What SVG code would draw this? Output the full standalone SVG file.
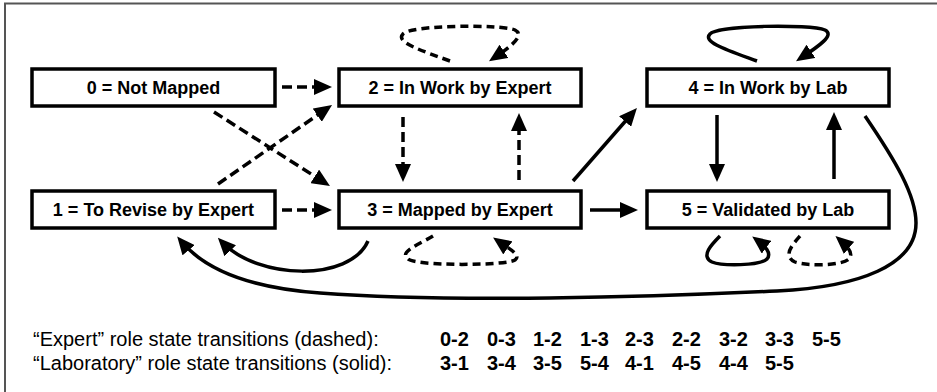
<svg xmlns="http://www.w3.org/2000/svg" width="937" height="392" viewBox="0 0 937 392">
<style>
.box{fill:#fff;stroke:#000;stroke-width:3.5}
.lbl{font-family:"Liberation Sans",Arial,sans-serif;font-weight:bold;font-size:18px;text-anchor:middle;fill:#000}
.c{fill:none;stroke:#000;stroke-width:3.5;marker-end:url(#ah)}
.d{stroke-dasharray:10 5}
.dl{stroke-dasharray:8 5}
.leg{font-family:"Liberation Sans",Arial,sans-serif;font-size:20px;fill:#000}
.num{font-family:"Liberation Sans",Arial,sans-serif;font-size:20px;font-weight:bold;fill:#000}
</style>
<defs>
<marker id="ah" viewBox="0 0 18 16" refX="12" refY="8" markerWidth="18" markerHeight="16" markerUnits="userSpaceOnUse" orient="auto">
<path d="M0,0 L18,8 L0,16 z" fill="#000"/>
</marker>
</defs>
<rect width="937" height="392" fill="#fff"/>
<rect x="5" y="3.5" width="1000" height="1000" fill="none" stroke="#555" stroke-width="2"/>
<g id="connectors">
<path class="c d" d="M282 87 L326 87"/>
<path class="c d" d="M282 210 L326 210"/>
<path class="c" d="M590 210 L632 210"/>
<path class="c d" d="M214 112 L324.9 182.8"/>
<path class="c d" d="M218 184 L327.1 108.4"/>
<path class="c d" d="M403 117 L403 176"/>
<path class="c d" d="M519 180 L519 119"/>
<path class="c" d="M717 115 L717 176"/>
<path class="c" d="M834 179 L834 118"/>
<path class="c" d="M573 181 L633 112.5"/>
<path class="c" d="M368 241 C350 282 258 280 222 242"/>
<path class="c" d="M865 116 C895 160 916 195 916 223 C916 265 860 287 777 291 C650 297 450 303 320 293 C250 288 205 270 181 241"/>
<path class="c dl" d="M450 61 C420 50 395 42 403 34 C410 25 500 24 515 30 C525 35 512 46 494 58"/>
<path class="c" d="M757 61 C727 50 702 42 710 34 C717 25 810 24 825 30 C835 35 819 46 801 58"/>
<path class="c dl" d="M433 236 C420 244 398 252 408 259 C415 266 505 266 515 260 C522 255 508 248 498 241"/>
<path class="c" d="M720 236 C712 244 700 256 712 262 C722 266 760 266 767 259 C772 253 765 246 757 240"/>
<path class="c dl" d="M800 236 C793 244 782 256 795 262 C805 266 842 266 849 259 C854 253 847 246 840 240"/>
</g>
<g id="n0"><rect class="box" x="32" y="69" width="243" height="37"/><text class="lbl" x="153.5" y="94">0 = Not Mapped</text></g>
<g id="n1"><rect class="box" x="32" y="191" width="243" height="37"/><text class="lbl" x="153.5" y="216">1 = To Revise by Expert</text></g>
<g id="n2"><rect class="box" x="339" y="69" width="242" height="37"/><text class="lbl" x="460" y="94">2 = In Work by Expert</text></g>
<g id="n3"><rect class="box" x="339" y="191" width="242" height="37"/><text class="lbl" x="460" y="216">3 = Mapped by Expert</text></g>
<g id="n4"><rect class="box" x="647" y="69" width="242" height="37"/><text class="lbl" x="768" y="94">4 = In Work by Lab</text></g>
<g id="n5"><rect class="box" x="647" y="191" width="242" height="37"/><text class="lbl" x="768" y="216">5 = Validated by Lab</text></g>
<g id="legend">
<text class="leg" x="33" y="346">“Expert” role state transitions (dashed):</text>
<text class="leg" x="33" y="370">“Laboratory” role state transitions (solid):</text>
<text class="num" y="346"><tspan x="440">0-2</tspan><tspan x="487">0-3</tspan><tspan x="533">1-2</tspan><tspan x="580">1-3</tspan><tspan x="625">2-3</tspan><tspan x="672">2-2</tspan><tspan x="719">3-2</tspan><tspan x="765">3-3</tspan><tspan x="812">5-5</tspan></text>
<text class="num" y="370"><tspan x="440">3-1</tspan><tspan x="487">3-4</tspan><tspan x="533">3-5</tspan><tspan x="580">5-4</tspan><tspan x="625">4-1</tspan><tspan x="672">4-5</tspan><tspan x="719">4-4</tspan><tspan x="765">5-5</tspan></text>
</g>
</svg>
